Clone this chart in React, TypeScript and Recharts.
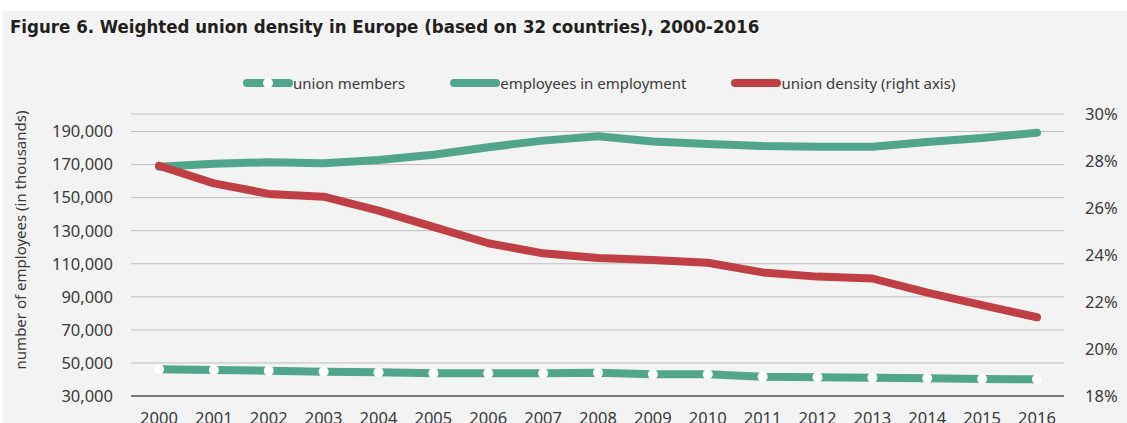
import { LineChart, Line, XAxis, YAxis, CartesianGrid, Legend } from 'recharts';

const years = [
    '2000', '2001', '2002', '2003', '2004', '2005', '2006', '2007', '2008',
    '2009', '2010', '2011', '2012', '2013', '2014', '2015', '2016',
];
// thousands of people
const unionMembers = [
    46150, 45700, 45300, 44700, 44300, 43700, 43700, 43700, 44100,
    43100, 43100, 41700, 41300, 41100, 40700, 40300, 40100,
];
const employeesInEmployment = [
    168700, 170500, 171400, 170800, 172800, 176000, 180500, 184500, 187100,
    183900, 182500, 181250, 180800, 180800, 183700, 186100, 189300,
];
// percent
const unionDensity = [
    27.8, 27.05, 26.6, 26.48, 25.89, 25.2, 24.5, 24.07, 23.87,
    23.79, 23.67, 23.26, 23.08, 23.0, 22.4, 21.87, 21.35,
];
const leftTicks = [30000, 50000, 70000, 90000, 110000, 130000, 150000, 170000, 190000];
const rightTicks = [18, 20, 22, 24, 26, 28, 30];
const legendOrder = ['members', 'employees', 'density'];

const data = years.map((year, i) => ({
    year,
    members: unionMembers[i],
    employees: employeesInEmployment[i],
    density: unionDensity[i],
}));

const GREEN = '#50a58b';
const RED = '#c03f45';
const FONT = '"Noto Sans", "Open Sans", sans-serif';
const TEXT = '#3a3a3a';

function LegendContent({ payload }: any) {
    const items = [...(payload || [])].sort(
        (a: any, b: any) => legendOrder.indexOf(a.dataKey) - legendOrder.indexOf(b.dataKey)
    );
    return (
        <div
            style={{
                display: 'flex',
                alignItems: 'center',
                paddingLeft: 243,
                fontFamily: FONT,
                fontSize: 15,
                color: TEXT,
                lineHeight: '22px',
            }}
        >
            {items.map((entry: any) => (
                <div key={entry.value} style={{ display: 'flex', alignItems: 'center', marginRight: 45 }}>
                    <svg width={50} height={12} style={{ display: 'block' }}>
                        <line x1={4} y1={6} x2={46} y2={6} stroke={entry.color} strokeWidth={8} strokeLinecap="round" />
                        {entry.dataKey === 'members' && <circle cx={25} cy={6} r={5} fill="#fff" />}
                    </svg>
                    <span>{entry.value}</span>
                </div>
            ))}
        </div>
    );
}

export default function App() {
    return (
        <div style={{ position: 'relative', width: 1127, height: 423, overflow: 'hidden', background: '#fff' }}>
            <style>{'body{margin:0}'}</style>
            <div
                style={{
                    position: 'absolute',
                    left: 3,
                    top: 11,
                    width: 1124,
                    height: 412,
                    background: '#f2f3f2',
                }}
            />
            <div
                style={{
                    position: 'absolute',
                    left: 10,
                    top: 16,
                    fontFamily: '"DejaVu Sans Condensed", "Liberation Sans Narrow", sans-serif',
                    fontWeight: 'bold',
                    fontSize: 18.5,
                    lineHeight: '22px',
                    color: '#231f20',
                    whiteSpace: 'nowrap',
                }}
            >
                Figure 6. Weighted union density in Europe (based on 32 countries), 2000-2016
            </div>
            <LineChart
                width={1127}
                height={423}
                data={data}
                margin={{ top: 114, right: 0, bottom: 0, left: 0 }}
                style={{ position: 'absolute', left: 0, top: 0, fontFamily: FONT }}
            >
                <CartesianGrid yAxisId="left" vertical={false} stroke="#bfbfbf" />
                <XAxis
                    dataKey="year"
                    height={27}
                    padding={{ left: 28, right: 27 }}
                    tickLine={false}
                    tickSize={0}
                    tickMargin={16}
                    axisLine={{ stroke: '#1a1a1a' }}
                    tick={{ fontSize: 16.5, fill: TEXT, fontFamily: FONT }}
                    interval={0}
                />
                <YAxis
                    yAxisId="left"
                    width={131}
                    domain={[30000, 200600]}
                    ticks={leftTicks}
                    interval={0}
                    axisLine={false}
                    tickLine={false}
                    tickSize={0}
                    tickMargin={18}
                    tick={{ fontSize: 16.5, fill: TEXT, fontFamily: FONT }}
                    tickFormatter={(v: number) => v.toLocaleString('en-US')}
                    label={{
                        content: ({ viewBox }: any) => {
                            const x = viewBox.x + 20;
                            const y = viewBox.y + viewBox.height / 2 - 15;
                            return (
                                <text
                                    x={x}
                                    y={y}
                                    transform={`rotate(-90 ${x} ${y})`}
                                    textAnchor="middle"
                                    dominantBaseline="central"
                                    fontSize={15}
                                    fill={TEXT}
                                    fontFamily={FONT}
                                >
                                    number of employees (in thousands)
                                </text>
                            );
                        },
                    }}
                />
                <YAxis
                    yAxisId="right"
                    orientation="right"
                    width={63}
                    domain={[18, 30]}
                    ticks={rightTicks}
                    interval={0}
                    axisLine={false}
                    tickLine={false}
                    tickSize={0}
                    tickMargin={21}
                    tick={{ fontSize: 16.5, fill: TEXT, fontFamily: FONT, textAnchor: 'start' }}
                    tickFormatter={(v: number) => `${v}%`}
                />
                <Legend
                    verticalAlign="middle"
                    align="center"
                    wrapperStyle={{ top: 72, left: 0, width: 1127 }}
                    content={<LegendContent />}
                />
                <Line
                    yAxisId="left"
                    dataKey="members"
                    name="union members"
                    stroke={GREEN}
                    strokeWidth={8}
                    strokeLinecap="round"
                    strokeLinejoin="round"
                    dot={{ r: 5, fill: '#fff', stroke: 'none', strokeWidth: 0 }}
                    activeDot={false}
                    isAnimationActive={false}
                />
                <Line
                    yAxisId="left"
                    dataKey="employees"
                    name="employees in employment"
                    stroke={GREEN}
                    strokeWidth={8}
                    strokeLinecap="round"
                    strokeLinejoin="round"
                    dot={false}
                    activeDot={false}
                    isAnimationActive={false}
                />
                <Line
                    yAxisId="right"
                    dataKey="density"
                    name="union density (right axis)"
                    stroke={RED}
                    strokeWidth={8}
                    strokeLinecap="round"
                    strokeLinejoin="round"
                    dot={false}
                    activeDot={false}
                    isAnimationActive={false}
                />
            </LineChart>
        </div>
    );
}
